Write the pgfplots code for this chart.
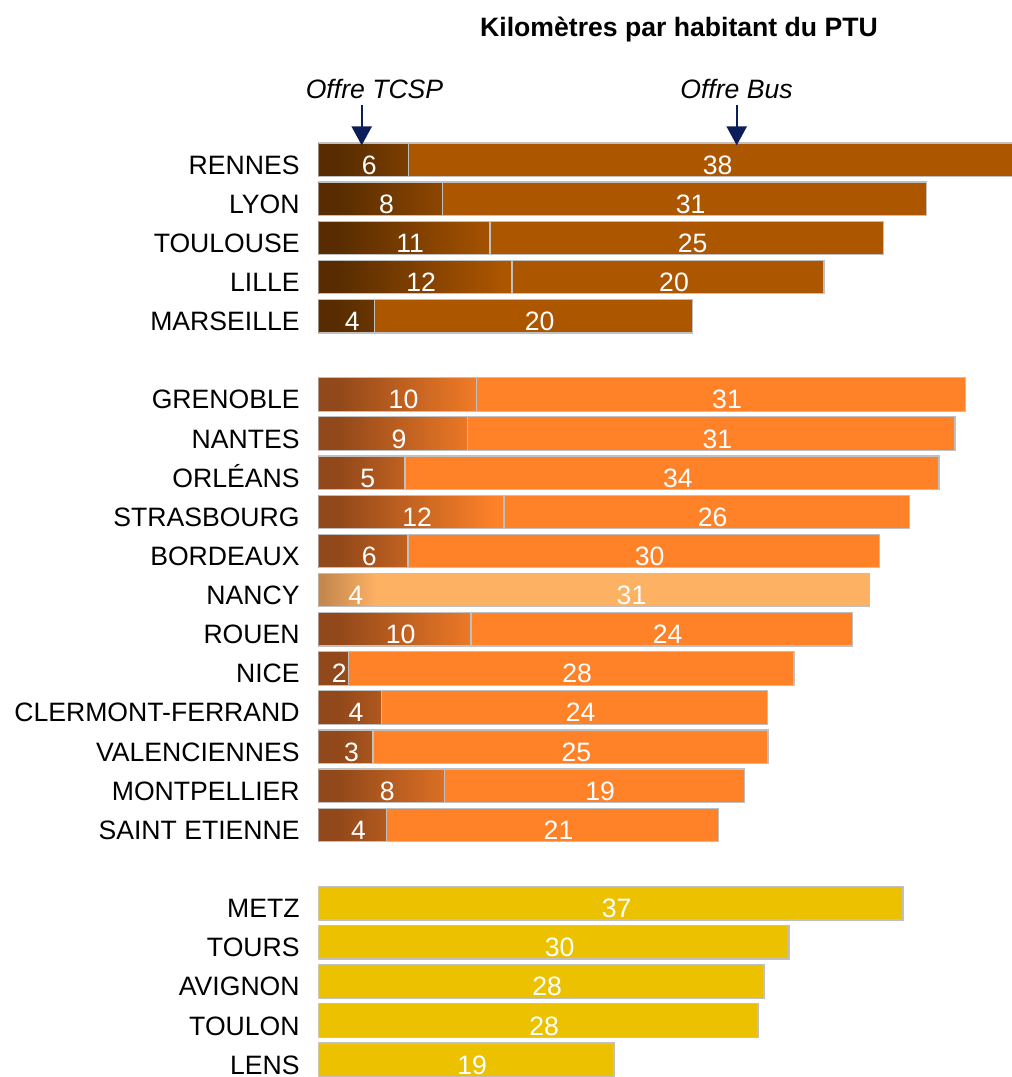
\documentclass[border=0pt]{standalone}
\usepackage{fontspec}
\setmainfont{Liberation Sans}
\usepackage{pgfplots}
\pgfplotsset{compat=1.18}
\usepackage{pgfplotstable}
\usetikzlibrary{arrows.meta}

\definecolor{busA}{RGB}{172,86,0}
\definecolor{darkA}{RGB}{88,44,0}
\definecolor{busB}{RGB}{255,130,41}
\definecolor{darkB}{RGB}{145,72,26}
\definecolor{busN}{RGB}{253,177,99}
\definecolor{darkN}{RGB}{196,136,78}
\definecolor{busC}{RGB}{236,193,0}
\definecolor{edge}{RGB}{192,192,192}
\definecolor{arrowc}{RGB}{12,30,90}

\pgfdeclarehorizontalshading{tcspA}{100bp}{color(0bp)=(darkA); color(30bp)=(darkA); color(73bp)=(busA); color(100bp)=(busA)}
\pgfdeclarehorizontalshading{tcspB}{100bp}{color(0bp)=(darkB); color(30bp)=(darkB); color(73bp)=(busB); color(100bp)=(busB)}
\pgfdeclarehorizontalshading{tcspN}{100bp}{color(0bp)=(darkN); color(29bp)=(darkN); color(71bp)=(busN); color(100bp)=(busN)}

\newcommand\fs{\fontsize{13.3}{16}\selectfont}

\pgfplotstableread{
y T B
0 5.70 38.40
1 7.87 30.64
2 10.87 24.89
3 12.26 19.75
4 3.55 20.15
}\grpA

\pgfplotstableread{
y T B
6 10.03 30.92
7 9.45 30.85
8 5.49 33.79
9 11.75 25.66
10 5.68 29.83
12 9.66 24.14
13 1.90 28.21
14 4.00 24.45
15 3.46 25.00
16 7.97 18.99
17 4.33 20.99
}\grpB

\pgfplotstableread{
y T B
11 3.99 30.91
}\grpN

\pgfplotstableread{
y B
19 37.00
20 29.79
21 28.21
22 27.83
23 18.72
}\grpC

\pgfplotsset{
  totbar/.style={xbar, bar shift=0pt, bar width=16.75pt, draw=edge, line width=0.6pt},
  lab/.style={draw=none, point meta=explicit,
    nodes near coords={\pgfmathprintnumber[fixed,precision=0,assume math mode=true]{\pgfplotspointmeta}},
    every node near coord/.style={anchor=base, yshift=-7.2pt, xshift=3pt, text=white, font=\fs, inner sep=0pt}},
}

\begin{document}
\begin{tikzpicture}[x=1pt,y=1pt]
\useasboundingbox (0,0) rectangle (506,538.5);
\begin{axis}[
  at={(159.15pt,468.45pt)}, anchor=north west,
  scale only axis, width=346.85pt, height=469.6pt,
  xmin=0, xmax=43.905, ymin=-0.5, ymax=23.5, y dir=reverse,
  axis x line=none, axis y line*=left,
  y axis line style={draw=none},
  major tick length=0pt,
  ytick={0,1,2,3,4,6,7,8,9,10,11,12,13,14,15,16,17,19,20,21,22,23},
  yticklabels={RENNES,LYON,TOULOUSE,LILLE\hspace{0.278em},MARSEILLE,GRENOBLE,NANTES,ORLÉANS,STRASBOURG,BORDEAUX,NANCY,ROUEN,NICE,CLERMONT-FERRAND,VALENCIENNES,MONTPELLIER,SAINT ETIENNE,METZ,TOURS,AVIGNON,TOULON,LENS},
  yticklabel style={anchor=base east, yshift=-7.2pt, xshift=-9.15pt, inner sep=0pt, font=\fs},
]
% group 1
\addplot[totbar, fill=busA] table[x expr=\thisrow{T}+\thisrow{B}, y=y]{\grpA};
\addplot[totbar, shade, shading=tcspA] table[x=T, y=y]{\grpA};
% group 2
\addplot[totbar, fill=busB] table[x expr=\thisrow{T}+\thisrow{B}, y=y]{\grpB};
\addplot[totbar, shade, shading=tcspB] table[x=T, y=y]{\grpB};
% Nancy
\addplot[totbar, fill=busN] table[x expr=\thisrow{T}+\thisrow{B}, y=y]{\grpN};
\addplot[totbar, shade, shading=tcspN] table[x=T, y=y]{\grpN};
% group 3
\addplot[totbar, fill=busC] table[x=B, y=y]{\grpC};
% labels
\addplot[lab] table[x expr=\thisrow{T}/2, y=y, meta=T]{\grpA};
\addplot[lab] table[x expr=\thisrow{T}+\thisrow{B}/2, y=y, meta=B]{\grpA};
\addplot[lab] table[x expr=\thisrow{T}/2, y=y, meta=T]{\grpB};
\addplot[lab] table[x expr=\thisrow{T}+\thisrow{B}/2, y=y, meta=B]{\grpB};
\addplot[lab] table[x expr=\thisrow{T}/2, y=y, meta=T]{\grpN};
\addplot[lab] table[x expr=\thisrow{T}+\thisrow{B}/2, y=y, meta=B]{\grpN};
\addplot[lab] table[x expr=\thisrow{B}/2, y=y, meta=B]{\grpC};
\end{axis}
\node[anchor=base, font=\bfseries\fs] at (339.5,520.35) {Kilomètres par habitant du PTU};
\node[anchor=base, font=\itshape\fs] at (187.25,489) {Offre TCSP};
\node[anchor=base, font=\itshape\fs] at (368.25,489) {Offre Bus};
\draw[arrowc, line width=1.1pt, -{Triangle[width=10pt,length=9.5pt]}] (180.85,486) -- (180.85,465.8);
\draw[arrowc, line width=1.1pt, -{Triangle[width=10pt,length=9.5pt]}] (368.35,486) -- (368.35,465.8);
\end{tikzpicture}
\end{document}
